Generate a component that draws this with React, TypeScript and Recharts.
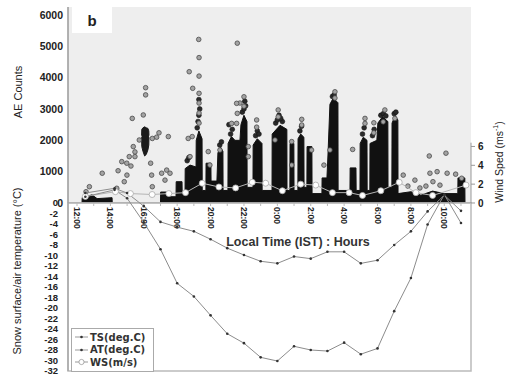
import React from "react";
import {
  ComposedChart,
  Area,
  Scatter,
  Line,
  XAxis,
  YAxis,
  CartesianGrid,
  ReferenceLine,
  ReferenceArea,
  Legend,
} from "recharts";

// time is in hours counted from noon of day 1 (24 = midnight, 34 = 10:00 next morning)
const hourTicks = [12, 13, 14, 15, 16, 17, 18, 19, 20, 21, 22, 23, 24, 25, 26, 27, 28, 29, 30, 31, 32, 33, 34, 35];
const labelHours = [12, 14, 16, 18, 20, 22, 24, 26, 28, 30, 32, 34];
const labelText = ["12:00", "14:00", "16:00", "18:00", "20:00", "22:00", "0:00", "2:00", "4:00", "6:00", "8:00", "10:00"];

const aeTicks = [0, 1000, 2000, 3000, 4000, 5000, 6000];
const tempTicks = [0, -2, -4, -6, -8, -10, -12, -14, -16, -18, -20, -22, -24, -26, -28, -30, -32];
const wsTicks = [0, 2, 4, 6];
const legendOrder = ["TS(deg.C)", "AT(deg.C)", "WS(m/s)"];

// dense part of the AE hits (solid black columns), outline
const denseHours = [
  11.46, 12.3, 12.31, 12.9, 13.2, 14.1, 14.11, 17.0, 17.01, 17.45, 17.46, 17.93, 17.94, 18.29, 18.3, 18.47, 18.48, 18.77,
  19.13, 19.14, 19.3, 19.49, 19.5, 19.72, 19.73, 20.02, 20.03, 20.38, 20.44, 20.6, 20.74, 20.75, 21.04, 21.05, 21.25, 21.46, 21.47,
  21.76, 21.82, 22.0, 22.18, 22.19, 22.54, 22.55, 22.8, 23.08, 23.09, 23.68, 23.69, 24.16, 24.57, 24.58, 24.75, 24.76, 24.99,
  25.0, 25.23, 25.24, 25.4, 25.59, 25.6, 25.77, 25.78, 26.07, 26.08, 26.67, 26.68, 26.97, 27.03, 27.15, 27.35, 27.63, 27.64,
  28.35, 28.36, 28.71, 28.72, 28.95, 28.96, 29.15, 29.37, 29.38, 29.54, 29.55, 29.96, 30.02, 30.3, 30.62, 30.63, 30.86, 30.87,
  31.05, 31.22, 31.23, 32.0, 32.6, 33.3, 34.0, 34.81, 34.82, 35.23, 35.24, 35.6,
];
const denseCounts = [
  0, 0, 170, 260, 140, 170, 0, 0, 350, 350, 200, 200, 680, 680, 300, 300, 1100, 1210,
  1150, 2000, 2300, 2050, 400, 400, 1270, 1270, 700, 700, 1600, 1780, 1650, 400, 400, 1900, 2120, 2000, 2000,
  2000, 2500, 2800, 2600, 500, 500, 1850, 2050, 1900, 400, 400, 2200, 2480, 2350, 400, 400, 1900, 1900,
  400, 400, 2050, 2200, 2100, 500, 500, 1800, 1800, 300, 300, 800, 800, 1500, 3150, 3350, 3200, 400,
  400, 1120, 1120, 400, 400, 1900, 2100, 2000, 400, 400, 1900, 2000, 2550, 2750, 2600, 500, 500, 2550,
  2780, 2650, 300, 360, 250, 380, 300, 300, 800, 800, 0, 0,
];

// the dark cluster just before 16:00
const blobHours = [15.87, 15.88, 15.95, 16.05, 16.15, 16.25, 16.3, 16.31];
const blobLow = [2100, 1800, 1650, 1500, 1550, 1700, 1850, 2100];
const blobHigh = [2150, 2350, 2400, 2430, 2400, 2380, 2300, 2150];

// dark hits piled on top of the columns
const edgeHours = [
  18.6, 18.7, 19.2, 19.25, 19.3, 19.35, 19.3, 20.55, 20.65, 21.2, 21.3, 21.1, 21.9, 22.0, 22.05, 22.1,
  22.7, 22.8, 22.9, 23.9, 24.0, 24.1, 24.3, 24.2, 25.35, 25.45, 27.3, 27.4, 29.1, 29.2, 29.7, 29.8,
  30.2, 30.35, 30.5, 31.0, 31.1,
];
const edgeCounts = [
  1350, 1450, 2400, 2600, 2800, 3000, 3300, 1850, 1950, 2200, 2350, 2500, 2900, 3000, 3250, 3100,
  2150, 2300, 2200, 2550, 2650, 2800, 2600, 2700, 2300, 2450, 3400, 3450, 2200, 2400, 2150, 2350,
  2800, 2850, 2780, 2850, 2900,
];

// single AE hits standing out of the columns
const outlierHours = [
  12.54, 12.74, 13.51, 14.38, 14.46, 14.83, 14.98, 15.13, 15.31, 15.37, 15.47, 15.73, 15.97, 16.11, 16.11, 14.68,
  15.47, 15.23, 14.99, 16.51, 16.91, 17.47, 16.77, 16.41, 16.47, 16.51, 17.07, 17.37, 17.57, 17.27, 18.72, 18.93,
  19.29, 19.31, 19.31, 19.31, 19.31, 19.31, 19.31, 18.66, 18.9, 18.77, 19.86, 20.56, 19.96, 21.6, 21.76, 21.56,
  21.56, 21.26, 21.6, 22.0, 22.0, 22.26, 22.26, 22.76, 22.76, 24.05, 24.05, 23.86, 24.86, 24.86, 25.46, 25.46,
  26.05, 27.45, 27.45, 26.79, 27.15, 28.51, 29.25, 29.25, 29.78, 29.78, 30.44, 30.34, 31.04, 31.54, 32.24, 33.1,
  33.14, 33.57, 34.1, 34.17, 34.68, 35.04, 33.32, 33.74, 32.54, 31.82, 32.9,
];
const outlierCounts = [
  360, 520, 950, 470, 1030, 680, 1270, 1480, 2700, 1800, 1630, 2010, 2810, 3680, 3450, 1320,
  1480, 1180, 890, 2060, 2240, 2120, 2100, 1270, 890, 520, 950, 1050, 950, 730, 4190, 3660,
  5220, 4640, 4050, 3500, 3190, 2870, 2550, 2060, 2120, 1480, 1640, 1690, 1210, 5100, 3190, 3180,
  2540, 2540, 2860, 3390, 3090, 1800, 1480, 2650, 2420, 2970, 2750, 2010, 1960, 1210, 2670, 2490,
  1690, 3550, 3350, 1210, 1690, 1710, 2700, 2540, 2560, 2240, 2970, 2590, 2700, 890, 730, 1500,
  950, 1000, 1590, 950, 920, 790, 680, 570, 480, 540, 540,
];

// hourly temperatures, deg C
const tempHours = [12.5, 14.25, 15, 16, 17, 18, 19, 20, 21, 22, 23, 24, 25, 26, 27, 28, 29, 30, 31, 32, 33, 34, 35];
const tsValues = [1.9, 2.8, 1.9, -0.6, -3.6, -4.6, -5.4, -6.9, -8.6, -9.9, -11.1, -11.5, -10.2, -10.6, -9.3, -9.3, -11.5, -10.9, -8.0, -5.4, -1.6, 1.5, -1.5];
const atValues = [1.2, 2.5, 0.9, -3.7, -8.8, -15.3, -17.8, -21.4, -24.9, -26.7, -29.4, -30.1, -27.3, -28.0, -28.2, -26.6, -28.8, -27.7, -20.6, -14.3, -4.1, 1.6, -3.8];

// wind speed, m/s
const wsHours = [12.5, 14.3, 15.2, 16.5, 17.5, 18.5, 19.5, 20.5, 21.5, 22.5, 23.3, 24.3, 25.4, 26.3, 27.3, 28.3, 29.1, 30.2, 31.3, 32.3, 33.3, 35.3];
const wsValues = [0.7, 1.2, 1.0, 0.9, 1.0, 1.1, 2.1, 1.7, 1.6, 2.2, 2.1, 1.3, 2.0, 1.9, 1.1, 1.1, 0.8, 1.3, 2.2, 1.1, 0.8, 1.9];

const denseData = denseHours.map((t, i) => ({ t, c: denseCounts[i] }));
const blobData = blobHours.map((t, i) => ({ t, r: [blobLow[i], blobHigh[i]] }));
const edgeData = edgeHours.map((t, i) => ({ t, c: edgeCounts[i] }));
const outlierData = outlierHours.map((t, i) => ({ t, c: outlierCounts[i] }));
const tsData = tempHours.map((t, i) => ({ t, ts: tsValues[i] }));
const atData = tempHours.map((t, i) => ({ t, at: atValues[i] }));
const wsData = wsHours.map((t, i) => ({ t, ws: wsValues[i] }));

const W = 507;
const H = 376;
const X_DOMAIN: [number, number] = [11.46, 35.6];
const SANS = "'Liberation Sans', Arial, sans-serif";

const tickFont = { fontSize: 10, fontWeight: 700, fill: "#222", fontFamily: SANS };

const HourTick = (props: any) => {
  const { x, y, payload } = props;
  const i = labelHours.indexOf(payload.value);
  if (i < 0) return <g />;
  return (
    <text
      x={x}
      y={y}
      transform={`rotate(90 ${x} ${y})`}
      textAnchor="start"
      dominantBaseline="central"
      fontSize={8.5}
      fontWeight={700}
      fill="#222"
      fontFamily={SANS}
    >
      {labelText[i]}
    </text>
  );
};

const HitDot = (props: any) => (
  <circle cx={props.cx} cy={props.cy} r={2.3} fill="#a3a3a3" stroke="#4a4a4a" strokeWidth={0.8} />
);

const EdgeDot = (props: any) => (
  <circle cx={props.cx} cy={props.cy} r={2.4} fill="#2a2a2a" stroke="#111" strokeWidth={0.6} />
);

const LegendBox = (props: any) => {
  const { payload } = props;
  return (
    <div
      style={{
        border: "1px solid #aaa",
        background: "#fff",
        padding: "2px 3px",
        boxSizing: "border-box",
        width: 83,
      }}
    >
      {(payload || []).map((p: any) => (
        <div key={p.value} style={{ display: "flex", alignItems: "center", height: 12.5 }}>
          <svg width={13} height={8} style={{ marginRight: 2 }}>
            <line x1={0} y1={4} x2={13} y2={4} stroke="#999" strokeWidth={1} />
            {p.dataKey === "ws" ? (
              <circle cx={6.5} cy={4} r={2.6} fill="#fff" stroke="#999" strokeWidth={0.8} />
            ) : (
              <circle cx={6.5} cy={4} r={1.3} fill="#333" />
            )}
          </svg>
          <span
            style={{
              fontFamily: "'DejaVu Sans', sans-serif",
              fontWeight: 700,
              fontSize: 10,
              color: "#333",
              whiteSpace: "nowrap",
            }}
          >
            {p.value}
          </span>
        </div>
      ))}
    </div>
  );
};

const vTitle = (cx: number, cy: number, size: number): React.CSSProperties => ({
  position: "absolute",
  left: cx,
  top: cy,
  transform: "translate(-50%, -50%) rotate(-90deg)",
  whiteSpace: "nowrap",
  fontFamily: SANS,
  fontSize: size,
  color: "#222",
  lineHeight: 1,
});

export default function App() {
  return (
    <div style={{ position: "absolute", left: 0, top: 0, width: W, height: H, background: "#fff", overflow: "hidden" }}>
      {/* upper panel: AE counts */}
      <div style={{ position: "absolute", left: 0, top: 0 }}>
        <ComposedChart width={W} height={240} margin={{ top: 7, right: 36, bottom: 0, left: 0 }}>
          <CartesianGrid fill="#eeeeee" horizontal={false} vertical={false} stroke="none" />
          <XAxis
            type="number"
            dataKey="t"
            domain={X_DOMAIN}
            ticks={hourTicks}
            interval={0}
            tick={HourTick}
            height={37}
            tickSize={3}
            tickMargin={1}
            stroke="#bbb"
            allowDataOverflow
          />
          <YAxis
            type="number"
            dataKey="c"
            domain={[0, 6255]}
            ticks={aeTicks}
            width={68}
            tickSize={0}
            tickMargin={5}
            tick={{ ...tickFont, fontSize: 10.5 }}
            axisLine={{ stroke: "#999" }}
            allowDataOverflow
          />
          <Area data={denseData} dataKey="c" type="linear" fill="#111" fillOpacity={1} stroke="#111" strokeWidth={1} isAnimationActive={false} />
          <Area data={blobData} dataKey="r" type="linear" fill="#1a1a1a" fillOpacity={1} stroke="#1a1a1a" isAnimationActive={false} />
          <Scatter data={edgeData} shape={EdgeDot} isAnimationActive={false} />
          <Scatter data={outlierData} shape={HitDot} isAnimationActive={false} />
        </ComposedChart>
      </div>

      {/* lower panel: temperatures and wind speed */}
      <div style={{ position: "absolute", left: 0, top: 0 }}>
        <ComposedChart width={W} height={H} margin={{ top: 7, right: 0, bottom: 5, left: 0 }}>
          <XAxis type="number" dataKey="t" domain={X_DOMAIN} hide allowDataOverflow />
          <YAxis
            yAxisId="temp"
            orientation="left"
            type="number"
            domain={[-32, 37.33]}
            ticks={tempTicks}
            interval={0}
            width={68}
            tickSize={0}
            tickMargin={10}
            tick={{ ...tickFont, fontSize: 9.5 }}
            axisLine={{ stroke: "#999" }}
            allowDataOverflow
          />
          <YAxis
            yAxisId="ws"
            orientation="right"
            type="number"
            domain={[-17.83, 20.8]}
            ticks={wsTicks}
            interval={0}
            width={36}
            axisLine={false}
            tickSize={4}
            tickMargin={3}
            tickLine={{ stroke: "#999" }}
            tick={tickFont}
            allowDataOverflow
          />
          <ReferenceArea yAxisId="temp" y1={-32} y2={0} fill="none" stroke="#bbb" strokeWidth={1.5} />
          <ReferenceLine
            yAxisId="ws"
            segment={[
              { x: 35.6, y: 0 },
              { x: 35.6, y: 6.4 },
            ]}
            stroke="#999"
          />
          <Line
            yAxisId="ws"
            data={wsData}
            dataKey="ws"
            name="WS(m/s)"
            type="linear"
            stroke="#b5b5b5"
            strokeWidth={1}
            dot={{ r: 3, fill: "#fff", stroke: "#aaa", strokeWidth: 0.8 }}
            activeDot={false}
            isAnimationActive={false}
          />
          <Line
            yAxisId="temp"
            data={tsData}
            dataKey="ts"
            name="TS(deg.C)"
            type="linear"
            stroke="#8c8c8c"
            strokeWidth={1}
            dot={{ r: 1.3, fill: "#333", stroke: "none" }}
            activeDot={false}
            isAnimationActive={false}
          />
          <Line
            yAxisId="temp"
            data={atData}
            dataKey="at"
            name="AT(deg.C)"
            type="linear"
            stroke="#8c8c8c"
            strokeWidth={1}
            dot={{ r: 1.3, fill: "#333", stroke: "none" }}
            activeDot={false}
            isAnimationActive={false}
          />
          <Legend
            content={LegendBox}
            layout="vertical"
            align="center"
            verticalAlign="middle"
            itemSorter={(item: any) => legendOrder.indexOf(item.value)}
            wrapperStyle={{ left: 71, top: 328, width: 83 }}
          />
        </ComposedChart>
      </div>

      {/* panel letter */}
      <div
        style={{
          position: "absolute",
          left: 72,
          top: 7,
          width: 40,
          height: 26,
          background: "#fff",
          fontFamily: SANS,
          fontWeight: 700,
          fontSize: 15,
          color: "#222",
          display: "flex",
          alignItems: "center",
          justifyContent: "center",
        }}
      >
        b
      </div>

      <div style={vTitle(18, 92, 11)}>AE Counts</div>
      <div style={vTitle(17, 271, 11)}>Snow surface/air temperature (°C)</div>
      <div style={vTitle(498, 162, 10.5)}>
        Wind Sped (ms<sup style={{ fontSize: 7 }}>-1</sup>)
      </div>
      <div
        style={{
          position: "absolute",
          left: 298,
          top: 242,
          transform: "translate(-50%, -50%)",
          whiteSpace: "nowrap",
          fontFamily: SANS,
          fontWeight: 700,
          fontSize: 12.5,
          color: "#333",
          lineHeight: 1,
        }}
      >
        Local Time (IST) : Hours
      </div>
    </div>
  );
}
